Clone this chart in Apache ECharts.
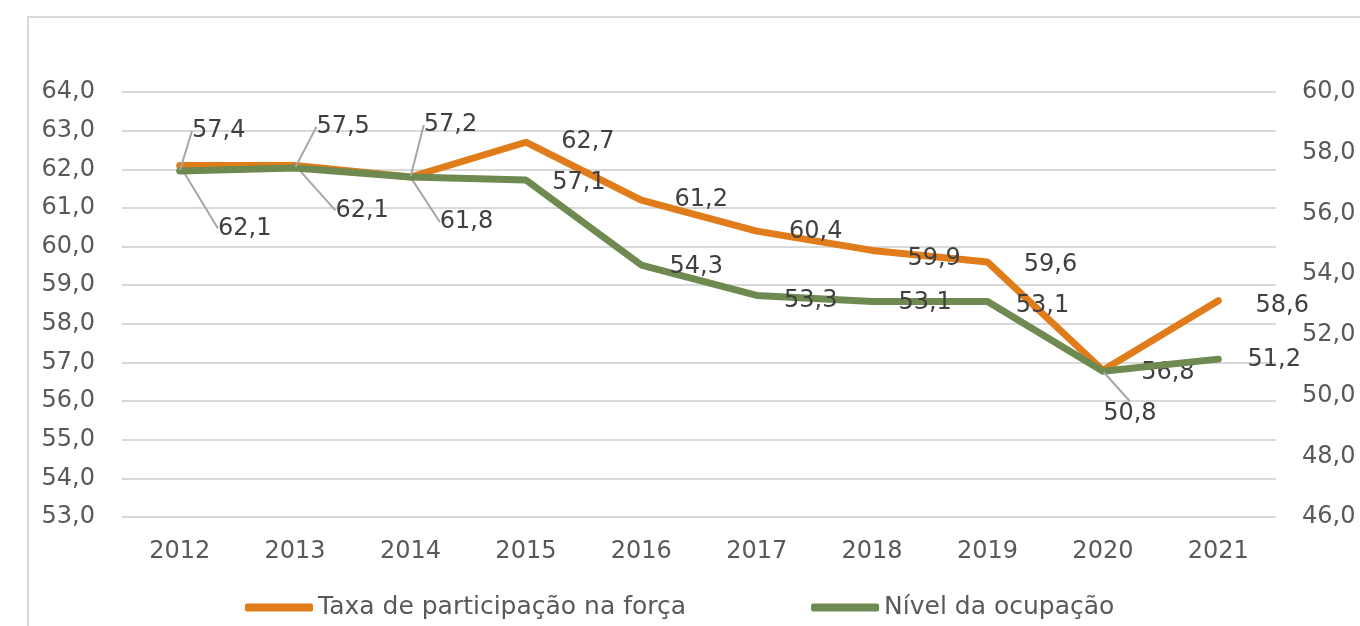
<!DOCTYPE html>
<html>
<head>
<meta charset="utf-8">
<script src="https://cdn.jsdelivr.net/npm/echarts@6/dist/echarts.min.js"></script>
<style>
html, body { margin: 0; padding: 0; background: #fff; }
#frame { position: absolute; left: 27px; top: 16px; width: 1331px; height: 640px; border: 2px solid #d9d9d9; }
#main { position: absolute; left: 0; top: 0; width: 1360px; height: 626px; }
</style>
</head>
<body>
<div id="frame"></div>
<div id="main"></div>
<script>
var anos = ['2012', '2013', '2014', '2015', '2016', '2017', '2018', '2019', '2020', '2021'];
var taxaParticipacao = [62.1, 62.1, 61.8, 62.7, 61.2, 60.4, 59.9, 59.6, 56.8, 58.6];
var nivelOcupacao = [57.4, 57.5, 57.2, 57.1, 54.3, 53.3, 53.1, 53.1, 50.8, 51.2];

// deslocamento dos rótulos (dx, dy) e linhas de chamada
var posTaxa = [[65, 63], [67, 45], [56, 45], [62, 0], [60, 0], [59, 1], [62, 8], [63, 3], [65, 3], [64, 5]];
var posNivel = [[39, -40], [48, -41], [40, -52], [53, 3], [55, 2], [54, 5], [53, 1], [55, 4], [27, 42], [56, 1]];
var chamadaTaxa = [true, true, true, false, false, false, false, false, false, false];
var chamadaNivel = [true, true, true, false, false, false, false, false, true, false];

var fonte = 'DejaVu Sans';
var myChart = echarts.init(document.getElementById('main'));

function fmt(v) {
    return v.toFixed(1).replace('.', ',');
}

function itens(valores, chamadas) {
    return valores.map(function (v, i) {
        return { value: v, labelLine: { show: chamadas[i] } };
    });
}

var option = {
    animation: false,
    textStyle: { fontFamily: fonte },
    grid: { left: 122, right: 84, top: 92, bottom: 109 },
    legend: {
        top: 595,
        left: 245,
        padding: 0,
        itemWidth: 68,
        itemHeight: 8,
        itemGap: 125,
        icon: 'roundRect',
        textStyle: { fontFamily: fonte, fontSize: 25, color: '#595959' },
        data: ['Taxa de participação na força', 'Nível da ocupação']
    },
    xAxis: {
        type: 'category',
        data: anos,
        axisLine: { show: false },
        axisTick: { show: false },
        axisLabel: { fontSize: 24, color: '#595959', margin: 23, fontFamily: fonte }
    },
    yAxis: [
        {
            type: 'value', min: 53, max: 64, interval: 1,
            axisLabel: { fontSize: 24, color: '#595959', margin: 27, fontFamily: fonte, formatter: fmt },
            splitLine: { lineStyle: { color: '#d9d9d9', width: 2 } }
        },
        {
            type: 'value', min: 46, max: 60, interval: 2,
            axisLabel: { fontSize: 24, color: '#595959', margin: 26, fontFamily: fonte, formatter: fmt },
            splitLine: { show: false }
        }
    ],
    series: [
        {
            name: 'Taxa de participação na força',
            type: 'line',
            yAxisIndex: 0,
            data: itens(taxaParticipacao, chamadaTaxa),
            symbol: 'circle', symbolSize: 2, showSymbol: true,
            lineStyle: { color: '#e07c1a', width: 7, cap: 'round' },
            itemStyle: { color: '#e07c1a' },
            label: {
                show: true, position: 'inside', fontSize: 24, color: '#404040', fontFamily: fonte,
                formatter: function (p) { return fmt(p.value); }
            },
            labelLine: { lineStyle: { color: '#a6a6a6', width: 2 } },
            labelLayout: function (p) {
                return { dx: posTaxa[p.dataIndex][0], dy: posTaxa[p.dataIndex][1] };
            },
            z: 2
        },
        {
            name: 'Nível da ocupação',
            type: 'line',
            yAxisIndex: 1,
            data: itens(nivelOcupacao, chamadaNivel),
            symbol: 'circle', symbolSize: 2, showSymbol: true,
            lineStyle: { color: '#6f8a50', width: 7, cap: 'round' },
            itemStyle: { color: '#6f8a50' },
            label: {
                show: true, position: 'inside', fontSize: 24, color: '#404040', fontFamily: fonte,
                formatter: function (p) { return fmt(p.value); }
            },
            labelLine: { lineStyle: { color: '#a6a6a6', width: 2 } },
            labelLayout: function (p) {
                return { dx: posNivel[p.dataIndex][0], dy: posNivel[p.dataIndex][1] };
            },
            z: 3
        }
    ]
};
myChart.setOption(option);
</script>
</body>
</html>
